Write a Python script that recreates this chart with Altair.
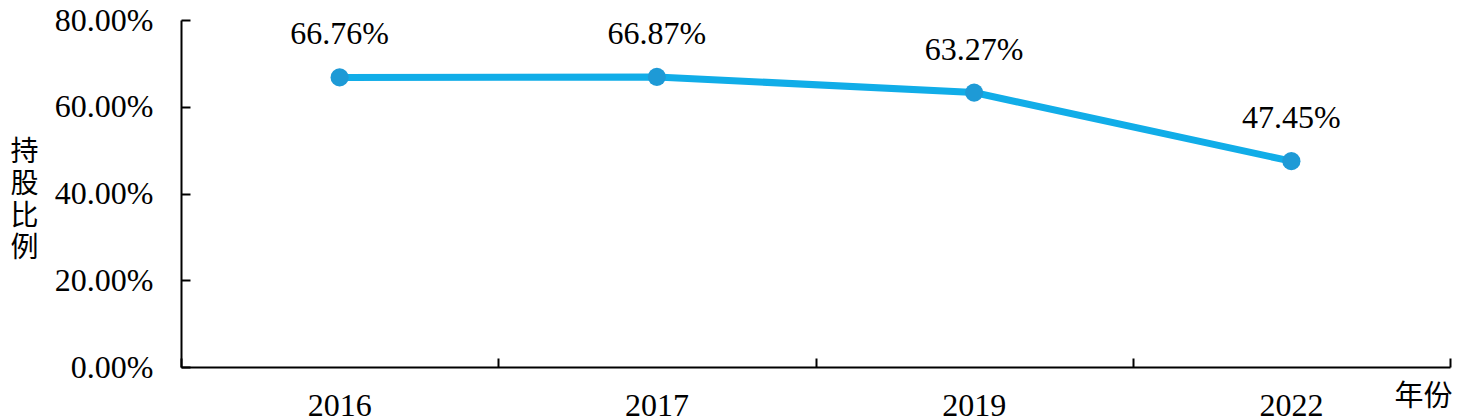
import altair as alt
import pandas as pd

years = ["2016", "2017", "2019", "2022"]
ratios = [0.6676, 0.6687, 0.6327, 0.4745]
labels = ["66.76%", "66.87%", "63.27%", "47.45%"]
y_ticks = [0, 0.2, 0.4, 0.6, 0.8]

df = pd.DataFrame({"year": years, "ratio": ratios, "label": labels})

W, H = 1269, 347
SERIF = "Liberation Serif, Times New Roman, serif"
CJK = "Noto Sans CJK SC"

xscale = alt.Scale(domain=years, paddingInner=0, paddingOuter=0)
yscale = alt.Scale(domain=[0, 0.8], nice=False)

x_main = alt.X("year:N", scale=xscale, sort=years,
               axis=alt.Axis(orient="bottom", title="年份", labelAngle=0,
                             labelFont=SERIF, labelFontSize=32, labelColor="black",
                             labelPadding=23, ticks=False, domainColor="black",
                             domainWidth=2, titleFont=CJK, titleFontSize=29,
                             titleFontWeight="normal", titleColor="black",
                             titleX=1242, titleY=15, titleAlign="center",
                             titleBaseline="top"))
y_main = alt.Y("ratio:Q", scale=yscale,
               axis=alt.Axis(orient="left", values=y_ticks, format=".2%",
                             title=["持", "股", "比", "例"], titleAngle=0,
                             titleFont=CJK, titleFontSize=28, titleFontWeight="normal",
                             titleColor="black", titleLineHeight=32,
                             titleX=-157, titleY=H / 2 - 55, titleAlign="center",
                             titleBaseline="top",
                             labelFont=SERIF, labelFontSize=32, labelColor="black",
                             labelPadding=28, ticks=False, grid=False,
                             domainColor="black", domainWidth=2))

line = alt.Chart(df).mark_line(color="#11ADE8", strokeWidth=7).encode(x=x_main, y=y_main)

x_ticks = alt.X("year:N", scale=xscale, sort=years,
                axis=alt.Axis(orient="top", offset=-H, labels=False, domain=False,
                              title=None, ticks=True, tickBand="extent",
                              tickSize=9, tickWidth=2, tickColor="black"))
y_tk = alt.Y("ratio:Q", scale=yscale,
             axis=alt.Axis(orient="right", offset=-W, values=y_ticks, labels=False,
                           domain=False, title=None, ticks=True, tickSize=9,
                           tickWidth=2, tickColor="black", grid=False))

points = alt.Chart(df).mark_point(filled=True, shape="circle", size=330,
                                  color="#1E9AD6", opacity=1).encode(x=x_ticks, y=y_tk)

text = alt.Chart(df).mark_text(font=SERIF, fontSize=32, color="black",
                               baseline="alphabetic", dy=-33).encode(
    x=alt.X("year:N", scale=xscale, sort=years, axis=None),
    y=alt.Y("ratio:Q", scale=yscale, axis=None),
    text="label:N")

chart = (alt.layer(line, points, text)
         .resolve_axis(x="independent", y="independent")
         .properties(width=W, height=H, autosize=alt.AutoSizeParams(type="none"),
                     padding={"left": 173, "top": 12, "right": 4, "bottom": 55})
         .configure_view(stroke=None)
         .configure_axis(grid=False))

chart.save("out.html", embed_options={"renderer": "svg", "actions": False})
